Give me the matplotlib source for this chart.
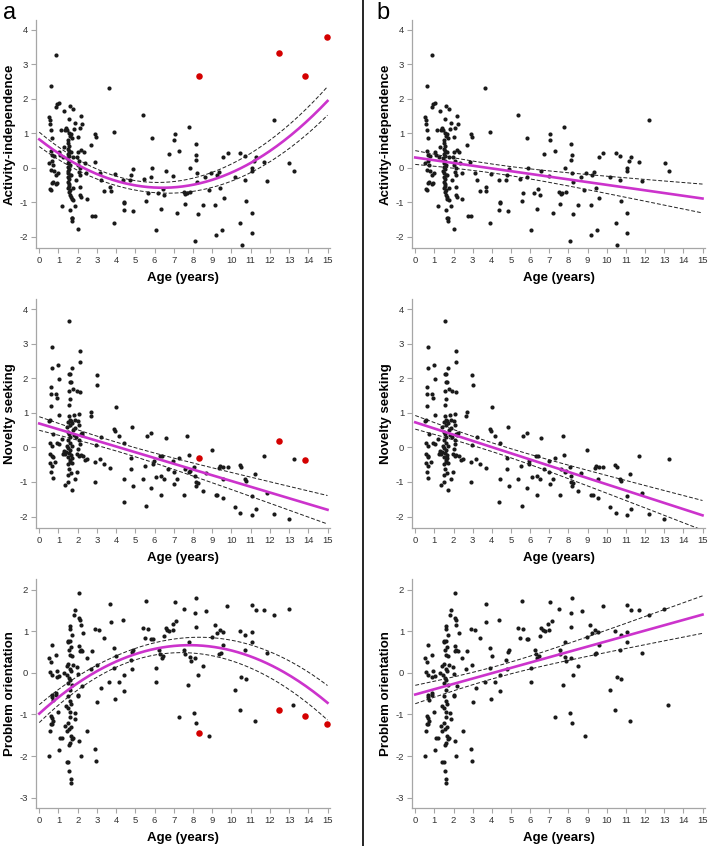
## age trends of three temperament traits ##
import numpy as np
import matplotlib
matplotlib.use('Agg')
import matplotlib.pyplot as plt

plt.rcParams['font.family'] = ['Liberation Sans', 'DejaVu Sans']
plt.rcParams['axes.unicode_minus'] = False

# activity-independence (all animals except the 4 red outliers)
ai_age = [
    0.85, 0.59, 0.50, 0.54, 0.55, 0.85, 0.94, 1.04, 0.62, 0.68,
    0.59, 0.66, 0.52, 0.78, 0.59, 0.78, 0.85, 0.73, 0.66, 0.55,
    0.59, 0.87, 0.64, 0.71, 1.11, 1.27, 1.04, 1.06, 0.97, 0.94,
    1.18, 1.35, 1.30, 1.25, 1.58, 1.75, 1.53, 1.40, 1.46, 1.54,
    1.61, 1.66, 1.50, 1.52, 1.55, 1.48, 1.57, 1.50, 1.53, 1.45,
    1.56, 1.51, 1.59, 1.49, 1.54, 1.47, 1.52, 1.58, 1.50, 1.55,
    1.48, 1.53, 1.57, 1.51, 1.62, 1.55, 1.60, 1.66, 1.75, 1.68,
    1.60, 1.68, 1.72, 1.86, 1.70, 1.64, 1.78, 1.82, 1.70, 1.65,
    1.74, 2.18, 2.22, 2.00, 2.10, 1.87, 2.02, 2.17, 2.31, 2.02,
    2.12, 2.05, 2.14, 2.13, 2.12, 2.17, 2.01, 2.46, 2.43, 2.36,
    1.95, 2.08, 1.92, 2.71, 2.91, 2.97, 2.88, 3.14, 3.22, 2.74,
    2.90, 3.36, 3.64, 3.88, 3.68, 3.71, 3.94, 3.90, 4.35, 4.40,
    4.40, 4.39, 4.73, 4.77, 4.86, 4.89, 5.38, 5.46, 5.55, 5.64,
    5.84, 5.86, 5.88, 6.05, 6.19, 6.36, 6.43, 6.50, 6.59, 6.73,
    6.97, 7.02, 7.06, 7.19, 7.28, 7.51, 7.56, 7.61, 7.68, 7.79,
    7.82, 7.87, 8.08, 8.15, 8.18, 8.15, 8.20, 8.22, 8.24, 8.50,
    8.65, 8.83, 8.93, 9.16, 9.20, 9.23, 9.35, 9.42, 9.50, 9.57,
    9.59, 9.81, 10.18, 10.46, 10.46, 10.54, 10.70, 10.70, 10.75, 11.05,
    11.05, 11.05, 11.08, 11.17, 11.27, 11.69, 11.83, 12.21, 13.02, 13.25,
]
ai_val = [
    3.28, 2.38, 1.48, 1.38, 1.26, 1.75, 1.84, 1.88, 1.09, 0.87,
    0.49, 0.38, 0.14, 0.34, -0.07, -0.09, -0.21, -0.42, -0.45, -0.62,
    -0.65, -0.48, 0.21, 0.08, 1.11, 1.66, 0.46, 0.37, -0.16, -0.43,
    -1.10, 1.11, 0.61, 0.32, 1.80, 1.70, 1.43, 1.15, 1.11, 1.01,
    0.92, 0.98, 0.82, 0.72, 0.62, 0.55, 0.48, 0.40, 0.33, 0.27,
    0.20, 0.14, 0.08, 0.02, -0.04, -0.10, -0.16, -0.22, -0.28, -0.34,
    -0.40, -0.46, -0.52, -0.58, -0.64, -0.70, -0.78, -0.86, -0.95, -0.90,
    -1.23, -1.47, -1.47, -1.11, -1.56, 0.45, 0.30, 1.12, 0.85, -0.20,
    -0.60, 1.50, 1.28, 0.88, 1.14, 1.31, 0.45, 0.51, 0.46, 0.07,
    -0.02, -0.12, -0.22, -0.55, -0.79, -0.84, -1.79, -0.92, -0.16, 0.14,
    0.30, 0.20, -0.35, 0.67, 0.99, 0.89, 0.18, -0.14, -0.36, -1.40,
    -1.41, -0.67, 2.33, 1.04, -0.55, -0.68, -0.19, -1.61, -0.36, -0.98,
    -1.03, -1.23, -0.36, -0.21, -1.27, -0.04, 1.54, -0.33, -0.97, -0.74,
    -0.26, 0.85, 0.00, -1.80, -0.74, -1.20, -0.63, -0.79, -0.09, 0.40,
    -0.24, 0.80, 0.97, -1.32, 0.49, -0.71, -1.05, -0.76, -0.74, 1.17,
    0.00, -0.71, -2.12, 0.68, 0.36, 0.22, -0.16, -0.41, -1.35, -1.08,
    -0.26, -0.65, -0.16, -1.08, -1.95, -0.21, -0.12, -0.60, -1.81, 0.30,
    -0.89, 0.44, -0.26, 0.42, -1.61, -2.24, 0.34, -0.36, -0.97, -0.02,
    -1.32, -1.90, -0.09, 0.20, 0.32, 0.17, -0.38, 1.40, 0.15, -0.09,
]

# novelty seeking
ns_age = [
    1.54, 0.68, 0.64, 0.97, 1.04, 0.61, 0.61, 0.85, 0.94, 0.59,
    1.04, 0.55, 0.50, 0.73, 0.55, 0.64, 0.94, 1.02, 0.55, 0.64,
    0.69, 0.82, 0.55, 0.64, 0.59, 0.69, 1.70, 1.54, 1.62, 1.60,
    1.66, 1.54, 1.75, 1.58, 1.53, 1.94, 2.12, 2.12, 2.12, 2.08,
    1.80, 1.34, 1.51, 1.72, 1.87, 1.98, 2.24, 2.51, 2.69, 2.67,
    1.56, 1.60, 1.52, 1.58, 1.64, 1.70, 1.48, 1.55, 1.62, 1.50,
    1.58, 1.45, 1.52, 1.60, 1.40, 1.55, 1.35, 1.65, 1.50, 1.58,
    1.62, 1.52, 1.70, 1.55, 1.65, 1.48, 1.28, 1.30, 1.75, 1.80,
    1.85, 1.90, 2.00, 2.05, 2.10, 2.15, 2.20, 2.08, 2.15, 1.95,
    2.02, 1.88, 1.20, 2.30, 2.38, 1.25, 1.42, 1.72, 1.68, 2.05,
    2.98, 3.02, 2.90, 2.90, 2.95, 3.15, 3.20, 3.38, 3.67, 3.94,
    3.90, 4.00, 4.14, 4.40, 4.40, 4.39, 4.77, 4.77, 4.84, 4.89,
    5.38, 5.50, 5.58, 5.62, 5.84, 5.82, 5.93, 5.96, 6.10, 6.28,
    6.35, 6.40, 6.35, 6.50, 6.59, 6.71, 6.97, 7.00, 7.02, 7.19,
    7.28, 7.54, 7.61, 7.70, 7.79, 7.80, 7.87, 8.06, 8.12, 8.15,
    8.18, 8.24, 8.50, 8.67, 8.98, 9.19, 9.26, 9.36, 9.43, 9.54,
    9.55, 9.57, 9.80, 10.18, 10.44, 10.52, 10.46, 10.70, 10.75, 11.05,
    11.08, 11.22, 11.27, 11.70, 11.83, 12.21, 13.00, 13.25,
]
ns_val = [
    3.64, 2.89, 2.29, 2.38, 1.98, 1.74, 1.53, 1.53, 1.43, 1.21,
    0.94, 0.79, 0.76, 0.39, 0.14, 0.05, 0.13, 0.10, -0.19, -0.24,
    -0.29, -0.41, -0.46, -0.53, -0.70, -0.89, 2.29, 2.12, 2.12, 1.88,
    1.88, 1.64, 1.69, 1.40, 1.22, 1.64, 2.80, 2.46, 1.59, 0.97,
    0.95, -1.09, -1.01, -1.23, -0.90, -0.70, 0.41, -0.34, 1.01, 0.90,
    0.92, 0.80, 0.72, 0.66, 0.75, 0.70, 0.45, 0.38, 0.30, 0.20,
    0.12, 0.05, -0.02, -0.08, -0.12, -0.15, -0.18, -0.22, -0.28, -0.35,
    -0.42, -0.48, -0.45, -0.62, -0.75, -0.80, -0.15, -0.10, 0.50, 0.35,
    0.55, 0.30, 0.75, 0.20, 0.10, 0.40, 0.35, -0.25, -0.22, -0.20,
    -0.05, 0.80, 0.25, -0.25, -0.35, -0.20, 0.60, 0.05, -0.30, 0.65,
    2.08, 1.79, -0.42, -1.01, 0.07, -0.34, 0.29, -0.48, -0.60, 0.48,
    0.52, 1.16, 0.32, 0.14, -0.92, -1.59, -0.32, -0.63, 0.59, -1.13,
    -0.92, -0.53, -1.69, 0.34, 0.41, -1.16, -0.48, -0.39, -0.87, -0.24,
    -0.82, -0.24, -1.37, -0.92, 0.26, -0.63, -0.39, -0.70, -1.06, -0.92,
    -0.31, -1.38, -0.61, 0.34, -0.21, -0.72, -0.68, -0.58, -0.82, -1.01,
    -1.11, -1.03, -1.25, -0.74, -0.07, -1.38, -1.38, -0.60, -0.55, -1.45,
    -0.92, -0.58, -0.58, -1.72, -0.50, -0.58, -1.90, -0.90, -0.97, -1.40,
    -1.96, -0.77, -1.79, -0.24, -1.33, -1.93, -2.06, -0.34,
]

# problem orientation
po_age = [
    0.52, 0.55, 0.59, 0.64, 0.61, 0.64, 0.73, 0.50, 0.59, 0.64,
    0.55, 0.64, 0.85, 0.64, 0.64, 0.73, 0.85, 0.87, 0.94, 0.90,
    1.04, 0.99, 1.01, 1.08, 1.18, 1.30, 1.42, 1.35, 1.42, 1.42,
    1.50, 1.56, 1.63, 1.63, 1.54, 1.58, 1.65, 1.70, 1.77, 1.84,
    1.58, 1.60, 1.52, 1.62, 1.70, 1.48, 1.66, 1.55, 1.60, 1.72,
    1.50, 1.58, 1.65, 1.45, 1.55, 1.62, 1.52, 1.70, 1.58, 1.48,
    1.60, 1.66, 1.52, 1.58, 1.62, 1.50, 1.55, 1.65, 1.40, 1.75,
    1.87, 1.80, 1.87, 2.08, 2.06, 2.12, 2.15, 2.08, 2.10, 2.15,
    2.22, 1.98, 2.00, 2.00, 2.04, 2.05, 2.15, 2.20, 2.29, 2.46,
    2.50, 2.72, 2.67, 2.90, 2.90, 2.95, 2.98, 3.02, 3.12, 3.19,
    3.36, 3.64, 3.68, 3.71, 3.88, 3.90, 3.94, 4.00, 4.16, 4.37,
    4.40, 4.40, 4.75, 4.80, 4.84, 4.89, 5.38, 5.48, 5.55, 5.64,
    5.81, 5.90, 6.05, 6.07, 6.24, 6.28, 6.38, 6.45, 6.50, 6.57,
    6.66, 6.76, 6.94, 6.97, 7.06, 7.14, 7.28, 7.53, 7.54, 7.58,
    7.72, 7.80, 7.82, 7.89, 8.06, 8.12, 8.13, 8.15, 8.18, 8.18,
    8.24, 8.50, 8.70, 8.84, 8.98, 9.14, 9.23, 9.36, 9.40, 9.45,
    9.55, 9.57, 9.78, 10.18, 10.44, 10.44, 10.52, 10.70, 10.75, 10.72,
    11.05, 11.05, 11.05, 11.22, 11.27, 11.69, 11.83, 12.21, 13.00, 13.21,
]
po_val = [
    -2.00, -1.39, -1.23, -1.24, -1.04, -1.08, -1.16, 0.36, 0.26, 0.67,
    0.02, -0.04, 0.42, -0.52, -0.58, -0.64, -0.48, -0.54, 0.04, -0.10,
    -0.08, -0.95, -1.86, -1.56, -1.56, 0.00, 0.16, -1.28, -1.40, -2.15,
    -2.15, -2.35, -2.56, -2.66, -1.74, -1.68, -1.51, -1.60, -1.56, -0.96,
    1.14, 1.05, 0.78, 0.78, 0.92, 0.75, 0.62, 0.55, 0.42, 0.40,
    0.22, 0.10, 0.05, -0.05, -0.12, -0.18, -0.25, -0.30, -0.40, -0.55,
    -0.68, -0.75, -0.85, -0.95, -1.05, -1.20, -1.35, -1.30, -0.80, 0.20,
    -1.12, 1.40, 1.52, 1.92, 1.32, 1.28, 1.16, 0.64, 0.52, 0.55,
    0.52, 0.14, -0.02, -0.52, -0.56, -1.64, -2.00, -0.32, 0.95, 0.35,
    -1.40, 0.52, 0.10, 1.06, -1.83, -2.12, 0.18, -0.71, 1.04, -0.36,
    0.84, -0.22, 1.67, 1.23, 0.60, 0.12, -0.62, 0.40, -0.22, 1.28,
    -0.06, -0.44, 0.32, 0.10, 0.50, 0.54, 1.08, 0.84, 1.74, 1.05,
    0.82, 0.82, -0.22, 0.11, 0.56, 0.46, 0.36, 0.40, 0.90, 1.08,
    1.03, 1.02, 1.18, 1.04, 1.70, 1.24, -1.06, 1.55, 0.54, 0.46,
    -0.30, 0.75, 0.38, 0.28, -0.96, 0.36, 1.43, 1.11, 1.80, -1.20,
    -0.04, 0.16, 1.48, -1.52, 0.86, 1.16, 0.96, 0.46, 1.04, 0.48,
    0.98, 0.68, 1.60, -0.40, -0.88, 1.02, -0.10, 0.54, -0.14, 0.92,
    1.64, 0.99, 0.74, -1.16, 1.52, 1.52, 0.48, 1.39, 1.54, -0.78,
]

# the four outliers, shown red in column a and left out in column b
out_age = [8.31, 12.48, 13.82, 14.95]
out_ai = [2.65, 3.33, 2.65, 3.81]
out_ns = [-0.31, 0.19, -0.37, np.nan]
out_po = [-1.44, -0.90, -1.03, -1.22]

traits = ['Activity-independence', 'Novelty seeking', 'Problem orientation']
ylims = [(-2.33, 4.29), (-2.33, 4.29), (-3.25, 2.26)]
yticks = [range(-2, 5), range(-2, 5), range(-3, 3)]
deg_a = [2, 1, 2]   # quadratic fits in column a
deg_b = [1, 1, 1]

MAG = '#cc33cc'
GRAY = '#a6a6a6'


def fit_band(x, y, deg, grid):
    # OLS polynomial fit; band half width taken from the straight-line se
    x, y = np.asarray(x, float), np.asarray(y, float)
    ok = ~np.isnan(y)
    x, y = x[ok], y[ok]
    X = np.vander(x, deg + 1)
    coef = np.linalg.lstsq(X, y, rcond=None)[0]
    res = y - X @ coef
    s2 = res @ res / (len(y) - deg - 1)
    fit = np.vander(grid, deg + 1) @ coef
    X1 = np.vander(x, 2)
    cov = s2 * np.linalg.inv(X1.T @ X1)
    G1 = np.vander(grid, 2)
    se = np.sqrt(np.einsum('ij,jk,ik->i', G1, cov, G1))
    return fit, fit - 1.97 * se, fit + 1.97 * se


fig = plt.figure(figsize=(7.08, 8.46), dpi=100)
W, H = 708.0, 846.0
rows_px = [(20, 248), (299, 528), (579, 808)]   # top, bottom in pixels
cols_px = [(36, 330), (412, 705)]

data = [(ai_age, ai_val, out_ai), (ns_age, ns_val, out_ns), (po_age, po_val, out_po)]
grid = np.linspace(0, 15, 200)

for r, (top, bot) in enumerate(rows_px):
    ages, vals, outs = data[r]
    for c, (lft, rgt) in enumerate(cols_px):
        ax = fig.add_axes([lft / W, 1 - bot / H, (rgt - lft) / W, (bot - top) / H])
        if c == 0:
            x_all = list(ages) + out_age
            y_all = list(vals) + outs
            fit, lo, hi = fit_band(x_all, y_all, deg_a[r], grid)
        else:
            fit, lo, hi = fit_band(ages, vals, deg_b[r], grid)

        ax.scatter(ages, vals, s=9, color='#1a1a1a', linewidths=0, zorder=3)
        if c == 0:
            ax.scatter(out_age, outs, s=22, color='#d40000', linewidths=0, zorder=4)
        ax.plot(grid, fit, color=MAG, lw=1.9, zorder=5)
        ax.plot(grid, lo, color='#222222', lw=0.7, ls=(0, (4, 2)), zorder=4)
        ax.plot(grid, hi, color='#222222', lw=0.7, ls=(0, (4, 2)), zorder=4)

        ax.set_xlim(-0.17, 15.13)
        ax.set_ylim(*ylims[r])
        ax.set_xticks(range(0, 16))
        ax.set_yticks(list(yticks[r]))
        for s in ['top', 'right']:
            ax.spines[s].set_visible(False)
        for s in ['left', 'bottom']:
            ax.spines[s].set_color(GRAY)
            ax.spines[s].set_linewidth(0.9)
        ax.tick_params(length=3.6, width=0.8, color=GRAY, labelsize=6.8,
                       labelcolor='#333333', pad=2)
        ax.set_xlabel('Age (years)', fontsize=9.5, fontweight='bold', labelpad=5)
        ax.set_ylabel(traits[r], fontsize=9.5, fontweight='bold', labelpad=3)

fig.text(3 / W, 1 - 2 / H, 'a', fontsize=17, va='top', ha='left')
fig.text(376 / W, 1 - 2 / H, 'b', fontsize=17, va='top', ha='left')
fig.add_artist(plt.Line2D([363 / W, 363 / W], [0, 1], color='black', lw=1.2))

fig.savefig('out.png', dpi=100)
